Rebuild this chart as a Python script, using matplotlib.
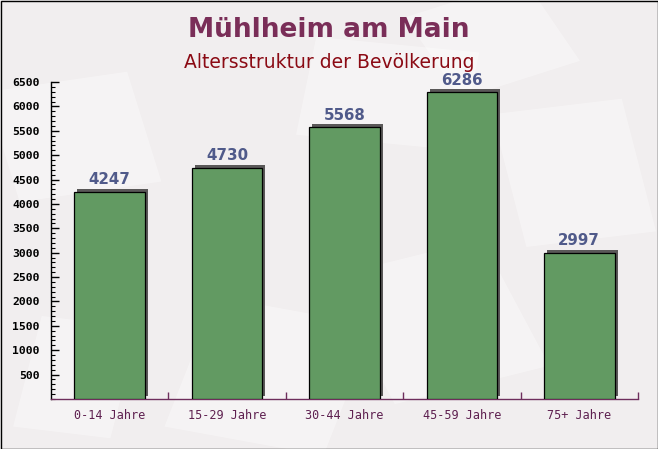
import matplotlib
matplotlib.use("Agg")
import matplotlib.pyplot as plt
import matplotlib.transforms as mtransforms
from matplotlib.patches import Rectangle
import numpy as np

categories = ["0-14 Jahre", "15-29 Jahre", "30-44 Jahre", "45-59 Jahre", "75+ Jahre"]
values = [4247, 4730, 5568, 6286, 2997]
yticks = list(range(500, 7000, 500))

title = "Mühlheim am Main"
subtitle = "Altersstruktur der Bevölkerung"

W, H, DPI = 658, 449, 100
fig = plt.figure(figsize=(W / DPI, H / DPI), dpi=DPI)
bg = "#f1eeef"
fig.patch.set_facecolor(bg)

# faint decorative background shapes (in a background axes)
bgax = fig.add_axes([0, 0, 1, 1], zorder=-5)
bgax.set_xlim(0, 1)
bgax.set_ylim(0, 1)
bgax.axis("off")
deco = [(0.03, 0.55, 0.22, 0.25, 12), (0.45, 0.70, 0.25, 0.22, -8), (0.80, 0.45, 0.2, 0.3, 10),
        (0.25, 0.05, 0.25, 0.3, -15), (0.60, 0.10, 0.25, 0.3, 20), (0.70, 0.78, 0.2, 0.2, 25),
        (0.02, 0.05, 0.15, 0.25, -10)]
for (x0, y0, w, h, ang) in deco:
    bgax.add_patch(Rectangle((x0, y0), w, h, angle=ang, facecolor="white", alpha=0.35,
                             edgecolor="none"))

ax = fig.add_axes([51 / W, 1 - 399 / H, (638 - 51) / W, (399 - 82) / H], zorder=1)
ax.set_facecolor("none")

x = np.arange(len(categories))
bw = 0.6
shadow_tr = ax.transData + mtransforms.ScaledTranslation(3 / DPI, 3 / DPI, fig.dpi_scale_trans)
ax.bar(x, values, width=bw, color="#5a5858", edgecolor="none", transform=shadow_tr, zorder=2)
ax.bar(x, values, width=bw, color="#629a62", edgecolor="black", linewidth=0.9, zorder=3)

for xi, v in zip(x, values):
    ax.annotate(f"{v}", (xi, v), xytext=(0, 3.5), textcoords="offset points",
                ha="center", va="bottom", fontsize=10.8, fontweight="bold",
                color="#505a8a", family="DejaVu Sans", zorder=4)

ax.set_xlim(-0.5, len(categories) - 0.5)
ax.set_ylim(0, 6500)
ax.set_yticks(yticks)
ax.set_yticklabels([str(t) for t in yticks])
ax.set_yticks(np.arange(0, 6501, 100), minor=True)
ax.tick_params(axis="y", which="major", direction="in", length=6, width=1, color="black",
               labelsize=8.2, pad=8)
ax.tick_params(axis="y", which="minor", direction="in", length=3, width=0.8, color="black")
for lab in ax.get_yticklabels():
    lab.set_family("DejaVu Sans Mono")
    lab.set_fontweight("bold")
    lab.set_color("black")

ax.set_xticks(x)
ax.set_xticklabels(categories)
ax.set_xticks(np.arange(0.5, len(categories), 1), minor=True)
ax.tick_params(axis="x", which="major", length=0, labelsize=8.5, pad=7, labelcolor="#5e2050")
ax.tick_params(axis="x", which="minor", direction="in", length=5, width=1, color="#6e2d5c")
for lab in ax.get_xticklabels():
    lab.set_family("DejaVu Sans Mono")
    lab.set_fontweight("normal")

for s in ["top", "right"]:
    ax.spines[s].set_visible(False)
ax.spines["left"].set_color("black")
ax.spines["left"].set_linewidth(1)
ax.spines["bottom"].set_color("#6e2d5c")
ax.spines["bottom"].set_linewidth(1)

fig.text(0.5, 1 - 30 / H, title, ha="center", va="center", fontsize=19, fontweight="bold",
         color="#7a2e58", family="DejaVu Sans")
fig.text(0.5, 1 - 62 / H, subtitle, ha="center", va="center", fontsize=13.5,
         color="#8b0a14", family="DejaVu Sans")

border = Rectangle((0.5 / W, 0.5 / H), 1 - 1 / W, 1 - 1 / H, transform=fig.transFigure,
                   facecolor="none", edgecolor="black", linewidth=1, zorder=10)
fig.patches.append(border)

fig.savefig("out.png", dpi=DPI, facecolor=bg)
